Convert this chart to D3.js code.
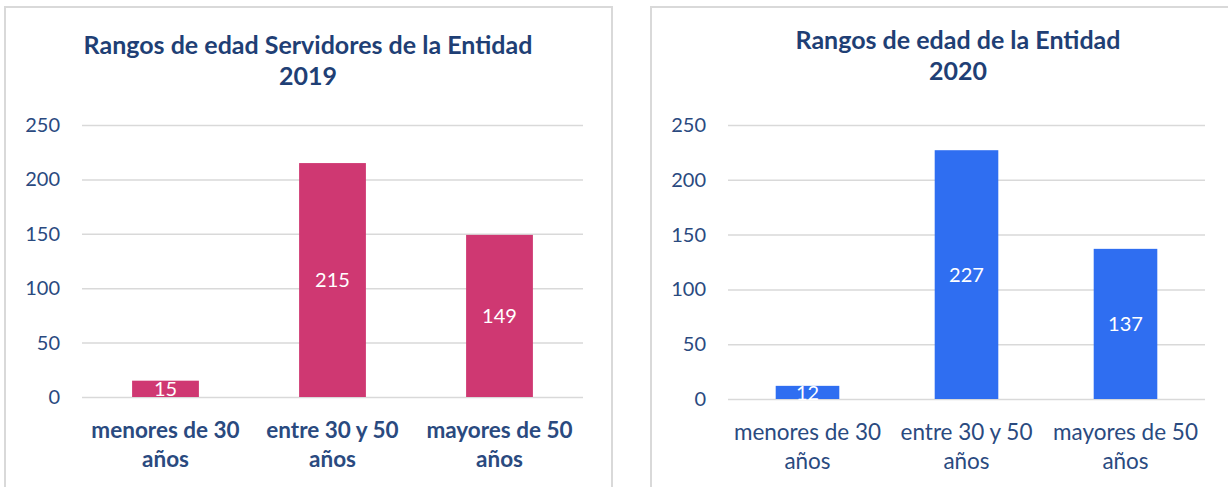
<!DOCTYPE html>
<html>
<head>
<meta charset="utf-8">
<script src="https://cdn.jsdelivr.net/npm/d3@7"></script>
<style>
  body { margin: 0; background: #fff; }
  svg { display: block; }
  text { font-family: Lato, "Open Sans", sans-serif; }
</style>
</head>
<body>
<div class="charts"></div>
<script>
// data
const categories = [
  ["menores de 30", "años"],
  ["entre 30 y 50", "años"],
  ["mayores de 50", "años"]
];
const values2019 = [15, 215, 149];
const values2020 = [12, 227, 137];
const yTicks = [0, 50, 100, 150, 200, 250];
const title2019 = ["Rangos de edad Servidores de la Entidad", "2019"];
const title2020 = ["Rangos de edad de la Entidad", "2020"];

const textColor = "#2a4a7f";

let svg = d3
  .select(".charts")
  .append("svg")
  .attr("width", 1228)
  .attr("height", 487);

// draw one panel
function drawChart(opts) {
  let g = svg.append("g");

  // frame
  g.append("rect")
    .attr("x", opts.frame[0])
    .attr("y", opts.frame[1])
    .attr("width", opts.frame[2])
    .attr("height", opts.frame[3])
    .attr("fill", "white")
    .attr("stroke", "#d9d9d9")
    .attr("stroke-width", 2);

  // title
  g.append("text")
    .attr("x", opts.titleX)
    .attr("text-anchor", "middle")
    .attr("fill", "#1f3f75")
    .style("font-weight", "bold")
    .style("font-size", "25px")
    .selectAll("tspan")
    .data(opts.title)
    .enter()
    .append("tspan")
    .attr("x", opts.titleX)
    .attr("y", (d, i) => opts.titleY + i * 31)
    .text(d => d);

  let x = d3
    .scaleBand()
    .domain(categories.map(d => d.join(" ")))
    .range([opts.left, opts.right])
    .paddingInner(0.6)
    .paddingOuter(0.3);

  let y = d3.scaleLinear().domain([0, 250]).range([opts.bottom, opts.top]);

  // gridlines + y labels
  let yAxis = g
    .append("g")
    .attr("transform", `translate(${opts.left}, 0)`)
    .call(
      d3.axisLeft(y)
        .tickValues(yTicks)
        .tickSize(-(opts.right - opts.left))
        .tickPadding(22)
    );
  yAxis.select(".domain").remove();
  yAxis.selectAll("line").attr("stroke", "#d9d9d9").attr("stroke-width", 1.5);
  yAxis.selectAll("text")
    .attr("fill", textColor)
    .style("font-size", "20px")
    .style("font-family", "Lato, sans-serif");

  // bars
  g.append("g")
    .selectAll("rect")
    .data(opts.values)
    .enter()
    .append("rect")
    .attr("x", (d, i) => x(categories[i].join(" ")))
    .attr("width", x.bandwidth())
    .attr("y", d => y(d))
    .attr("height", d => y(0) - y(d))
    .attr("fill", opts.color);

  // value labels inside bars
  g.append("g")
    .selectAll("text")
    .data(opts.values)
    .enter()
    .append("text")
    .attr("x", (d, i) => x(categories[i].join(" ")) + x.bandwidth() / 2)
    .attr("y", d => (y(d) + y(0)) / 2)
    .attr("dy", "0.36em")
    .attr("text-anchor", "middle")
    .attr("fill", "white")
    .style("font-size", "20px")
    .text(d => d);

  // category labels
  let xl = g.append("g")
    .selectAll("text")
    .data(categories)
    .enter()
    .append("text")
    .attr("text-anchor", "middle")
    .attr("fill", textColor)
    .style("font-size", "22.5px")
    .style("font-weight", opts.boldLabels ? "bold" : "normal");
  xl.selectAll("tspan")
    .data((d, i) => d.map(s => ({ s: s, i: i, c: d.join(" ") })))
    .enter()
    .append("tspan")
    .attr("x", d => x(d.c) + x.bandwidth() / 2)
    .attr("y", (d, j) => opts.labelY + j * 29)
    .text(d => d.s);
}

drawChart({
  frame: [5, 7, 607, 500],
  title: title2019,
  titleX: 308,
  titleY: 54,
  left: 82,
  right: 583,
  top: 125,
  bottom: 397,
  values: values2019,
  color: "#cf3872",
  boldLabels: true,
  labelY: 438
});

drawChart({
  frame: [651, 7, 600, 500],
  title: title2020,
  titleX: 958,
  titleY: 49,
  left: 728,
  right: 1205,
  top: 125,
  bottom: 399,
  values: values2020,
  color: "#2f6ef1",
  boldLabels: false,
  labelY: 440
});
</script>
</body>
</html>
